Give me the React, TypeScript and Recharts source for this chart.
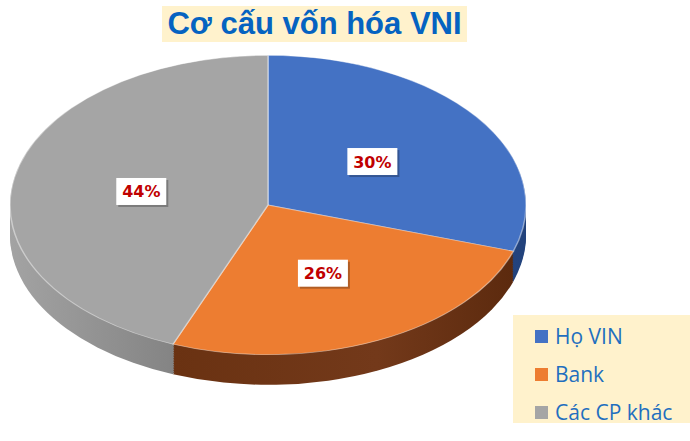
import { PieChart, Pie, Cell } from "recharts";

const categories = ["Họ VIN", "Bank", "Các CP khác"];
const shares = [30, 26, 44];
const topColors = ["#4472c4", "#ed7d31", "#a5a5a5"];
const sideFills = ["url(#sideBlue)", "url(#sideOrange)", "url(#sideGray)"];

const data = categories.map((name, i) => ({ name, value: shares[i] }));

// tilt of the pie (vertical squash) and thickness of the "3D" side, in unscaled px
const K = 0.58;
const CX = 268;
const CY = 205 / K;
const R = 258;
const DEPTH = 52;
const STEP = 3;
const layers: number[] = [];
for (let d = DEPTH; d > 0; d -= STEP) layers.push(d);

const RADIAN = Math.PI / 180;

function renderLabel(props: any) {
  const { cx, cy, midAngle, outerRadius, value } = props;
  const r = outerRadius * 0.5;
  const x = cx + r * Math.cos(-midAngle * RADIAN);
  const y = cy + r * Math.sin(-midAngle * RADIAN);
  return (
    <g transform={`translate(${x},${y}) scale(1,${1 / K})`}>
      <rect x={-23} y={-11} width={50} height={27} fill="rgba(0,0,0,0.25)" />
      <rect x={-25} y={-13} width={50} height={27} fill="#ffffff" />
      <text
        x={0}
        y={1}
        textAnchor="middle"
        dominantBaseline="central"
        fill="#c00000"
        fontFamily="DejaVu Sans"
        fontWeight="bold"
        fontSize={16}
      >
        {`${value}%`}
      </text>
    </g>
  );
}

export default function App() {
  return (
    <div
      style={{
        position: "absolute",
        left: 0,
        top: 0,
        width: 690,
        height: 441,
        overflow: "hidden",
        background: "#ffffff",
      }}
    >
      <div
        style={{
          position: "absolute",
          left: 0,
          top: 0,
          transform: `scaleY(${K})`,
          transformOrigin: "top left",
        }}
      >
        <PieChart width={690} height={441 / K} margin={{ top: 0, right: 0, bottom: 0, left: 0 }}>
          <defs>
            <linearGradient id="sideGray" x1="0" y1="0" x2="1" y2="0">
              <stop offset="0%" stopColor="#a3a3a3" />
              <stop offset="100%" stopColor="#727272" />
            </linearGradient>
            <linearGradient id="sideOrange" x1="0" y1="0" x2="1" y2="0">
              <stop offset="0%" stopColor="#6a3212" />
              <stop offset="60%" stopColor="#73391a" />
              <stop offset="100%" stopColor="#5c2a0e" />
            </linearGradient>
            <linearGradient id="sideBlue" x1="0" y1="0" x2="1" y2="0">
              <stop offset="0%" stopColor="#34589a" />
              <stop offset="100%" stopColor="#22427c" />
            </linearGradient>
          </defs>
          {layers.map((d) => (
            <Pie
              key={`side-${d}`}
              data={data}
              dataKey="value"
              cx={CX}
              cy={CY + d}
              outerRadius={R}
              startAngle={90}
              endAngle={-270}
              stroke="none"
              label={false}
              labelLine={false}
              isAnimationActive={false}
            >
              {data.map((entry, i) => (
                <Cell key={`s-${d}-${entry.name}`} fill={sideFills[i]} />
              ))}
            </Pie>
          ))}
          <Pie
            data={data}
            dataKey="value"
            cx={CX}
            cy={CY}
            outerRadius={R}
            startAngle={90}
            endAngle={-270}
            stroke="#ffffff"
            strokeOpacity={0.45}
            strokeWidth={1.5}
            label={renderLabel}
            labelLine={false}
            isAnimationActive={false}
          >
            {data.map((entry, i) => (
              <Cell key={`top-${entry.name}`} fill={topColors[i]} />
            ))}
          </Pie>
        </PieChart>
      </div>

      <div
        style={{
          position: "absolute",
          left: 162,
          top: 6,
          width: 305,
          height: 36,
          background: "#fff2cc",
          color: "#0563c1",
          fontFamily: "Liberation Sans",
          fontWeight: "bold",
          fontSize: 31,
          lineHeight: "36px",
          textAlign: "center",
          whiteSpace: "nowrap",
        }}
      >
        Cơ cấu vốn hóa VNI
      </div>

      <div
        style={{
          position: "absolute",
          left: 513,
          top: 315,
          width: 177,
          height: 108,
          background: "#fff2cc",
        }}
      >
        {categories.map((name, i) => (
          <div
            key={name}
            style={{
              position: "absolute",
              left: 22,
              top: 7 + i * 38,
              height: 28,
              display: "flex",
              alignItems: "center",
              fontFamily: "Open Sans",
              fontSize: 21,
              color: "#1f6fbf",
              whiteSpace: "nowrap",
            }}
          >
            <span
              style={{
                display: "inline-block",
                width: 13,
                height: 13,
                background: topColors[i],
                marginRight: 7,
              }}
            />
            {name}
          </div>
        ))}
      </div>
    </div>
  );
}
